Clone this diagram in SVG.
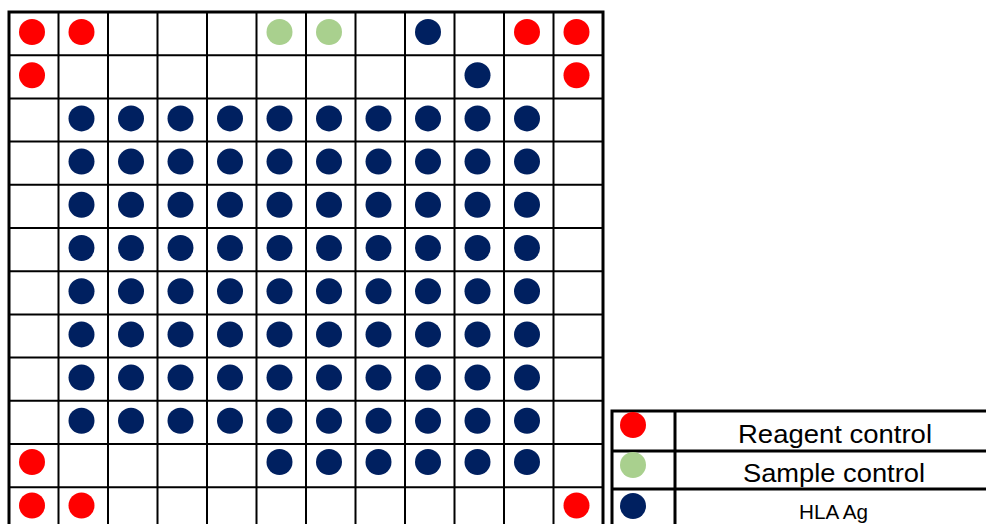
<svg xmlns="http://www.w3.org/2000/svg" width="986" height="524" viewBox="0 0 986 524">
<style>
.g{stroke:#000;stroke-width:2;fill:none}
.o{stroke:#000;stroke-width:3;fill:none}
.r{fill:#FF0000}
.s{fill:#A9D08E}
.n{fill:#002060}
.t{font-family:"Liberation Sans",Arial,sans-serif;fill:#000;text-anchor:middle}
</style>
<rect width="986" height="524" fill="#fff"/>
<g id="grid">
<path class="g" d="M58.5 12V540M108 12V540M157.5 12V540M207 12V540M256.5 12V540M306 12V540M355.5 12V540M405 12V540M454.5 12V540M504 12V540M553.5 12V540"/>
<path class="g" d="M9 55.2H603M9 98.4H603M9 141.6H603M9 184.8H603M9 228H603M9 271.2H603M9 314.4H603M9 357.6H603M9 400.8H603M9 444H603M9 487.2H603"/>
<rect class="o" x="9" y="12" width="594" height="530"/>
</g>
<g id="wells">
<!-- row 0 -->
<circle class="r" cx="32" cy="32" r="13"/>
<circle class="r" cx="81.5" cy="32" r="13"/>
<circle class="s" cx="279.5" cy="32" r="13"/>
<circle class="s" cx="329" cy="32" r="13"/>
<circle class="n" cx="428" cy="32" r="13"/>
<circle class="r" cx="527" cy="32" r="13"/>
<circle class="r" cx="576.5" cy="32" r="13"/>
<!-- row 1 -->
<circle class="r" cx="32" cy="75.2" r="13"/>
<circle class="n" cx="477.5" cy="75.2" r="13"/>
<circle class="r" cx="576.5" cy="75.2" r="13"/>
<!-- rows 2-9 -->
<g id="ag-block">
<g id="r2"><circle class="n" cx="81.5" cy="118.4" r="13"/><circle class="n" cx="131" cy="118.4" r="13"/><circle class="n" cx="180.5" cy="118.4" r="13"/><circle class="n" cx="230" cy="118.4" r="13"/><circle class="n" cx="279.5" cy="118.4" r="13"/><circle class="n" cx="329" cy="118.4" r="13"/><circle class="n" cx="378.5" cy="118.4" r="13"/><circle class="n" cx="428" cy="118.4" r="13"/><circle class="n" cx="477.5" cy="118.4" r="13"/><circle class="n" cx="527" cy="118.4" r="13"/></g>
<g id="r3"><circle class="n" cx="81.5" cy="161.6" r="13"/><circle class="n" cx="131" cy="161.6" r="13"/><circle class="n" cx="180.5" cy="161.6" r="13"/><circle class="n" cx="230" cy="161.6" r="13"/><circle class="n" cx="279.5" cy="161.6" r="13"/><circle class="n" cx="329" cy="161.6" r="13"/><circle class="n" cx="378.5" cy="161.6" r="13"/><circle class="n" cx="428" cy="161.6" r="13"/><circle class="n" cx="477.5" cy="161.6" r="13"/><circle class="n" cx="527" cy="161.6" r="13"/></g>
<g id="r4"><circle class="n" cx="81.5" cy="204.8" r="13"/><circle class="n" cx="131" cy="204.8" r="13"/><circle class="n" cx="180.5" cy="204.8" r="13"/><circle class="n" cx="230" cy="204.8" r="13"/><circle class="n" cx="279.5" cy="204.8" r="13"/><circle class="n" cx="329" cy="204.8" r="13"/><circle class="n" cx="378.5" cy="204.8" r="13"/><circle class="n" cx="428" cy="204.8" r="13"/><circle class="n" cx="477.5" cy="204.8" r="13"/><circle class="n" cx="527" cy="204.8" r="13"/></g>
<g id="r5"><circle class="n" cx="81.5" cy="248" r="13"/><circle class="n" cx="131" cy="248" r="13"/><circle class="n" cx="180.5" cy="248" r="13"/><circle class="n" cx="230" cy="248" r="13"/><circle class="n" cx="279.5" cy="248" r="13"/><circle class="n" cx="329" cy="248" r="13"/><circle class="n" cx="378.5" cy="248" r="13"/><circle class="n" cx="428" cy="248" r="13"/><circle class="n" cx="477.5" cy="248" r="13"/><circle class="n" cx="527" cy="248" r="13"/></g>
<g id="r6"><circle class="n" cx="81.5" cy="291.2" r="13"/><circle class="n" cx="131" cy="291.2" r="13"/><circle class="n" cx="180.5" cy="291.2" r="13"/><circle class="n" cx="230" cy="291.2" r="13"/><circle class="n" cx="279.5" cy="291.2" r="13"/><circle class="n" cx="329" cy="291.2" r="13"/><circle class="n" cx="378.5" cy="291.2" r="13"/><circle class="n" cx="428" cy="291.2" r="13"/><circle class="n" cx="477.5" cy="291.2" r="13"/><circle class="n" cx="527" cy="291.2" r="13"/></g>
<g id="r7"><circle class="n" cx="81.5" cy="334.4" r="13"/><circle class="n" cx="131" cy="334.4" r="13"/><circle class="n" cx="180.5" cy="334.4" r="13"/><circle class="n" cx="230" cy="334.4" r="13"/><circle class="n" cx="279.5" cy="334.4" r="13"/><circle class="n" cx="329" cy="334.4" r="13"/><circle class="n" cx="378.5" cy="334.4" r="13"/><circle class="n" cx="428" cy="334.4" r="13"/><circle class="n" cx="477.5" cy="334.4" r="13"/><circle class="n" cx="527" cy="334.4" r="13"/></g>
<g id="r8"><circle class="n" cx="81.5" cy="377.6" r="13"/><circle class="n" cx="131" cy="377.6" r="13"/><circle class="n" cx="180.5" cy="377.6" r="13"/><circle class="n" cx="230" cy="377.6" r="13"/><circle class="n" cx="279.5" cy="377.6" r="13"/><circle class="n" cx="329" cy="377.6" r="13"/><circle class="n" cx="378.5" cy="377.6" r="13"/><circle class="n" cx="428" cy="377.6" r="13"/><circle class="n" cx="477.5" cy="377.6" r="13"/><circle class="n" cx="527" cy="377.6" r="13"/></g>
<g id="r9"><circle class="n" cx="81.5" cy="420.8" r="13"/><circle class="n" cx="131" cy="420.8" r="13"/><circle class="n" cx="180.5" cy="420.8" r="13"/><circle class="n" cx="230" cy="420.8" r="13"/><circle class="n" cx="279.5" cy="420.8" r="13"/><circle class="n" cx="329" cy="420.8" r="13"/><circle class="n" cx="378.5" cy="420.8" r="13"/><circle class="n" cx="428" cy="420.8" r="13"/><circle class="n" cx="477.5" cy="420.8" r="13"/><circle class="n" cx="527" cy="420.8" r="13"/></g>
</g>
<!-- row 10 -->
<circle class="r" cx="32" cy="462" r="13"/>
<circle class="n" cx="279.5" cy="462" r="13"/>
<circle class="n" cx="329" cy="462" r="13"/>
<circle class="n" cx="378.5" cy="462" r="13"/>
<circle class="n" cx="428" cy="462" r="13"/>
<circle class="n" cx="477.5" cy="462" r="13"/>
<circle class="n" cx="527" cy="462" r="13"/>
<!-- row 11 -->
<circle class="r" cx="32" cy="505.5" r="13"/>
<circle class="r" cx="81.5" cy="505.5" r="13"/>
<circle class="r" cx="576.5" cy="505.5" r="13"/>
</g>
<g id="legend">
<rect class="o" x="612" y="411" width="390" height="130"/>
<path class="o" d="M675 411V541M612 451H1000M612 489H1000"/>
<circle class="r" cx="633" cy="425" r="13"/>
<circle class="s" cx="633" cy="465" r="13"/>
<circle class="n" cx="633" cy="506" r="13"/>
<text class="t" x="835" y="443" font-size="26" textLength="194" lengthAdjust="spacingAndGlyphs">Reagent control</text>
<text class="t" x="834" y="482" font-size="26" textLength="182" lengthAdjust="spacingAndGlyphs">Sample control</text>
<text class="t" x="833.5" y="519" font-size="20" textLength="69" lengthAdjust="spacingAndGlyphs">HLA Ag</text>
</g>
</svg>
